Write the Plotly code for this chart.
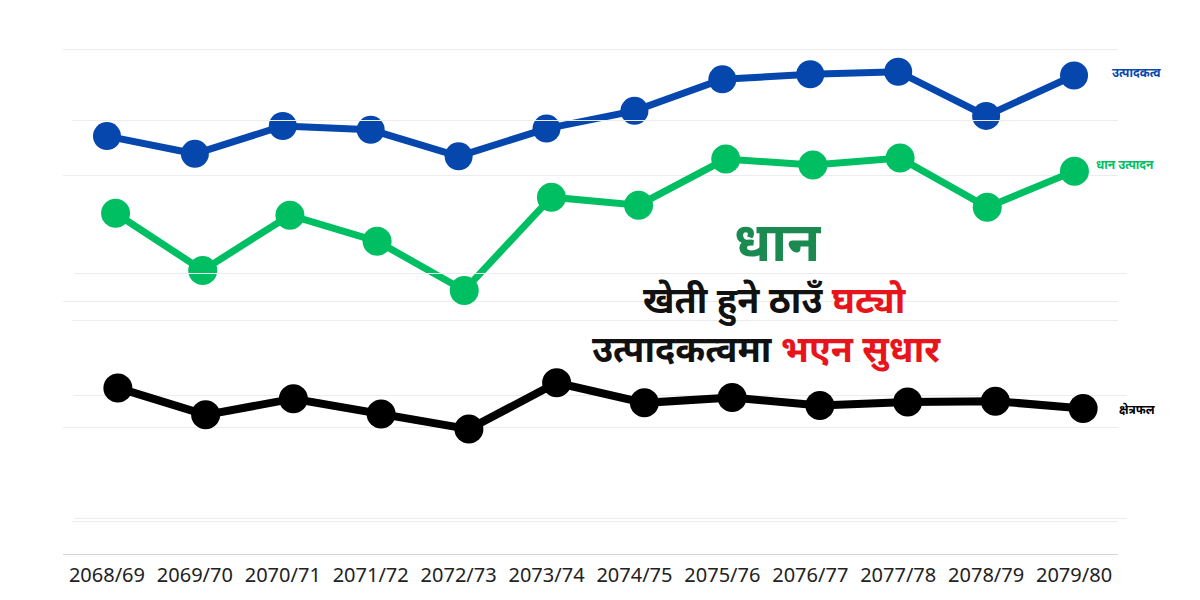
import plotly.graph_objects as go

# ─────────────────────────────────────────────
# Datos: धान (Nepal) 2068/69 – 2079/80
# ─────────────────────────────────────────────

years = ["2068/69", "2069/70", "2070/71", "2071/72", "2072/73", "2073/74",
         "2074/75", "2075/76", "2076/77", "2077/78", "2078/79", "2079/80"]

# उत्पादकत्व (टन/हेक्टर)
yield_t_ha = [3.31, 3.17, 3.39, 3.36, 3.15, 3.37, 3.51, 3.76, 3.80, 3.82, 3.47, 3.79]
# धान उत्पादन (मिलियन टन)
production_mt = [5.07, 4.50, 5.05, 4.79, 4.30, 5.23, 5.15, 5.61, 5.55, 5.62, 5.13, 5.49]
# क्षेत्रफल (मिलियन हेक्टर)
area_mha = [1.531, 1.421, 1.487, 1.425, 1.363, 1.552, 1.470, 1.492, 1.459, 1.473, 1.477, 1.447]

series_names = ["उत्पादकत्व", "धान उत्पादन", "क्षेत्रफल"]

BLUE = "#0547ad"
GREEN = "#00bf63"
BLACK = "#000000"
RED = "#e8141b"
GRID = "#ececec"
W, H = 1200, 600
OFF = 8  # margen del body en la página


def px_x(a, b):
    return [(a - OFF) / W, (b - OFF) / W]


def y_axis(v_lo, p_lo, v_hi, p_hi, top, bottom, **kw):
    """Eje y cuyo valor v_lo cae en el pixel p_lo y v_hi en p_hi."""
    scale = (p_lo - p_hi) / (v_hi - v_lo)
    rng = [v_lo - (bottom - p_lo) / scale, v_lo + (p_lo - top) / scale]
    dom = [1 - (bottom - OFF) / H, 1 - (top - OFF) / H]
    return dict(domain=dom, range=rng, showgrid=True, gridcolor=GRID,
                showticklabels=False, zeroline=False, showline=False, **kw)


fig = go.Figure()

fig.add_trace(go.Scatter(
    x=years, y=yield_t_ha, name=series_names[0], mode="lines+markers",
    line=dict(color=BLUE, width=7), marker=dict(size=28, color=BLUE),
    xaxis="x", yaxis="y", cliponaxis=False,
))
fig.add_trace(go.Scatter(
    x=years, y=production_mt, name=series_names[1], mode="lines+markers",
    line=dict(color=GREEN, width=7), marker=dict(size=29, color=GREEN),
    xaxis="x2", yaxis="y2", cliponaxis=False,
))
fig.add_trace(go.Scatter(
    x=years, y=area_mha, name=series_names[2], mode="lines+markers",
    line=dict(color=BLACK, width=8), marker=dict(size=29, color=BLACK),
    xaxis="x3", yaxis="y3", cliponaxis=False,
))

hidden_x = dict(type="category", showgrid=False, showticklabels=False,
                zeroline=False, showline=False, range=[-0.5, 11.5])

fig.update_layout(
    width=W, height=H,
    margin=dict(l=0, r=0, t=0, b=0),
    paper_bgcolor="white", plot_bgcolor="rgba(0,0,0,0)",
    showlegend=False,
    font=dict(family="Noto Sans, Noto Sans Devanagari, sans-serif", color="#1a1a1a"),
    xaxis=dict(type="category", domain=px_x(63, 1118), range=[-0.5, 11.5],
               showgrid=False, zeroline=False, showline=True, linecolor="#d6d6d6",
               linewidth=1, ticks="", tickfont=dict(size=20, color="#222222"),
               ticklabelstandoff=3, anchor="y"),
    yaxis=y_axis(0, 554, 4, 49, 45, 554, tickvals=[1, 2, 3, 4], anchor="x"),
    xaxis2=dict(hidden_x, domain=px_x(72, 1118), anchor="y2"),
    yaxis2=y_axis(2, 521, 6, 120, 116, 525, tickvals=[2, 4, 6], anchor="x2"),
    xaxis3=dict(hidden_x, domain=px_x(74, 1127), anchor="y3"),
    yaxis3=y_axis(1, 518, 2, 273, 269, 522, tickvals=[1, 1.5, 2], anchor="x3"),
)

# etiquetas de serie a la derecha
fig.add_annotation(x=years[-1], y=yield_t_ha[-1], xref="x", yref="y",
                   text="<b>" + series_names[0] + "</b>", showarrow=False,
                   xanchor="left", xshift=36, yshift=3,
                   font=dict(size=12, color=BLUE))
fig.add_annotation(x=years[-1], y=production_mt[-1], xref="x2", yref="y2",
                   text="<b>" + series_names[1] + "</b>", showarrow=False,
                   xanchor="left", xshift=20, yshift=7,
                   font=dict(size=12, color=GREEN))
fig.add_annotation(x=years[-1], y=area_mha[-1], xref="x3", yref="y3",
                   text="<b>" + series_names[2] + "</b>", showarrow=False,
                   xanchor="left", xshift=34, yshift=-1,
                   font=dict(size=12, color=BLACK))

# titular
fig.add_annotation(x=(778 - OFF) / W, y=1 - (240 - OFF) / H, xref="paper", yref="paper",
                   text="<b>धान</b>", showarrow=False,
                   font=dict(size=54, color="#1b8a50"))
fig.add_annotation(x=(775 - OFF) / W, y=1 - (300 - OFF) / H, xref="paper", yref="paper",
                   text="<b>खेती हुने ठाउँ <span style='color:%s'>घट्यो</span></b>" % RED,
                   showarrow=False, font=dict(size=36, color="#111111"))
fig.add_annotation(x=(767 - OFF) / W, y=1 - (348 - OFF) / H, xref="paper", yref="paper",
                   text="<b>उत्पादकत्वमा <span style='color:%s'>भएन सुधार</span></b>" % RED,
                   showarrow=False, font=dict(size=36, color="#111111"))

fig.write_html("out.html")
